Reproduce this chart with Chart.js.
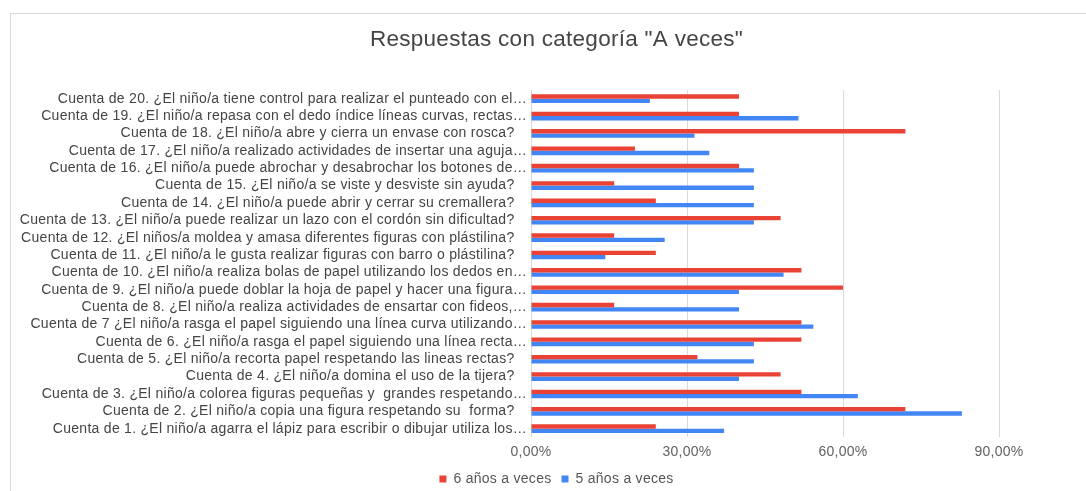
<!DOCTYPE html>
<html>
<head>
<meta charset="utf-8">
<script src="https://cdn.jsdelivr.net/npm/chart.js@4"></script>
<style>
  html, body { margin: 0; padding: 0; background: #fff; }
  #wrap { position: relative; width: 1086px; height: 491px; overflow: hidden; }
  #frame { position: absolute; left: 10px; top: 13px; width: 1100px; height: 500px; border-left: 1px solid #d9d9d9; border-top: 1px solid #d9d9d9; }
  canvas { position: absolute; left: 0; top: 0; }
</style>
</head>
<body>
<div id="wrap">
  <div id="frame"></div>
  <canvas id="c" width="1086" height="491"></canvas>
</div>
<script>
// Categories in display order (top to bottom)
const categories = [
  "Cuenta de 20. ¿El niño/a tiene control para realizar el punteado con el…",
  "Cuenta de 19. ¿El niño/a repasa con el dedo índice líneas curvas, rectas…",
  "Cuenta de 18. ¿El niño/a abre y cierra un envase con rosca?",
  "Cuenta de 17. ¿El niño/a realizado actividades de insertar una aguja…",
  "Cuenta de 16. ¿El niño/a puede abrochar y desabrochar los botones de…",
  "Cuenta de 15. ¿El niño/a se viste y desviste sin ayuda?",
  "Cuenta de 14. ¿El niño/a puede abrir y cerrar su cremallera?",
  "Cuenta de 13. ¿El niño/a puede realizar un lazo con el cordón sin dificultad?",
  "Cuenta de 12. ¿El niños/a moldea y amasa diferentes figuras con plástilina?",
  "Cuenta de 11. ¿El niño/a le gusta realizar figuras con barro o plástilina?",
  "Cuenta de 10. ¿El niño/a realiza bolas de papel utilizando los dedos en…",
  "Cuenta de 9. ¿El niño/a puede doblar la hoja de papel y hacer una figura…",
  "Cuenta de 8. ¿El niño/a realiza actividades de ensartar con fideos,…",
  "Cuenta de 7 ¿El niño/a rasga el papel siguiendo una línea curva utilizando…",
  "Cuenta de 6. ¿El niño/a rasga el papel siguiendo una línea recta…",
  "Cuenta de 5. ¿El niño/a recorta papel respetando las lineas rectas?",
  "Cuenta de 4. ¿El niño/a domina el uso de la tijera?",
  "Cuenta de 3. ¿El niño/a colorea figuras pequeñas y  grandes respetando…",
  "Cuenta de 2. ¿El niño/a copia una figura respetando su  forma?",
  "Cuenta de 1. ¿El niño/a agarra el lápiz para escribir o dibujar utiliza los…"
];

// Percent values, same order as categories
const seis = [40, 40, 72, 20, 40, 16, 24, 48, 16, 24, 52, 60, 16, 52, 52, 32, 48, 52, 72, 24];
const cinco = [22.86, 51.43, 31.43, 34.29, 42.86, 42.86, 42.86, 42.86, 25.71, 14.29, 48.57, 40, 40, 54.29, 42.86, 42.86, 40, 62.86, 82.86, 37.14];

const seriesNames = ["6 años a veces", "5 años a veces"];
const xTicks = [0, 30, 60, 90];
const titleText = 'Respuestas con categoría "A veces"';

const FONT = 'Liberation Sans, Arial, sans-serif';
const SPACING = '0.28px';

const spacingPlugin = {
  id: 'spacing',
  beforeInit(chart) { chart.ctx.letterSpacing = SPACING; },
  beforeUpdate(chart) { chart.ctx.letterSpacing = SPACING; },
  afterLayout(chart) {
    // shift title and legend horizontally to sit where the original has them
    const dx = 57;
    if (chart.titleBlock) { chart.titleBlock.left += dx; chart.titleBlock.right += dx; }
    if (chart.legend) { chart.legend.left += dx; chart.legend.right += dx; }
  },
  beforeDraw(chart) { chart.ctx.letterSpacing = SPACING; }
};

new Chart(document.getElementById('c'), {
  type: 'bar',
  plugins: [spacingPlugin],
  data: {
    labels: categories,
    datasets: [
      { label: seriesNames[0], data: seis, backgroundColor: '#ea4335', borderWidth: 0 },
      { label: seriesNames[1], data: cinco, backgroundColor: '#4285f4', borderWidth: 0 }
    ]
  },
  options: {
    indexAxis: 'y',
    responsive: false,
    animation: false,
    devicePixelRatio: 1,
    layout: { padding: { left: 0, right: 87, top: 0, bottom: -5 } },
    datasets: { bar: { barPercentage: 1, categoryPercentage: 0.5 } },
    scales: {
      x: {
        min: 0, max: 90,
        afterBuildTicks: (s) => { s.ticks = xTicks.map(v => ({ value: v })); },
        afterFit: (s) => { s.height = 24.6; },
        grid: { color: '#d9d9d9', lineWidth: 1, drawTicks: false },
        border: { display: false },
        ticks: {
          padding: 6,
          color: '#5f5f5f',
          font: { family: FONT, size: 14 },
          callback: (v) => Number(v).toFixed(2).replace('.', ',') + '%'
        }
      },
      y: {
        afterFit: (s) => { s.width = 531; },
        grid: { display: false, drawTicks: false },
        border: { display: false },
        ticks: {
          padding: 4,
          autoSkip: false,
          color: '#444',
          font: { family: FONT, size: 14 },
          // untruncated labels sit a little further from the axis than truncated ones
          callback: function (v, i) {
            const t = this.getLabelForValue(v);
            return t.endsWith('…') ? t : t + '   ';
          }
        }
      }
    },
    plugins: {
      title: {
        display: true,
        text: titleText,
        color: '#444',
        font: { family: FONT, size: 22.5, weight: 'normal' },
        padding: { top: 26, bottom: 37 }
      },
      legend: {
        position: 'bottom',
        labels: {
          usePointStyle: true,
          pointStyle: 'rect',
          boxWidth: 7,
          boxHeight: 7,
          padding: 10,
          color: '#555',
          font: { family: FONT, size: 14 }
        }
      },
      tooltip: { enabled: false }
    }
  }
});
</script>
</body>
</html>
